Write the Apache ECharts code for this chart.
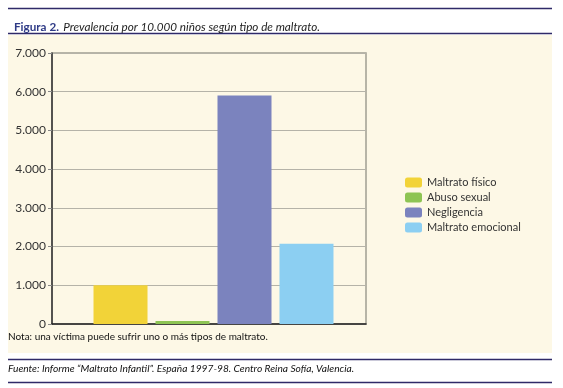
<!DOCTYPE html>
<html><head><meta charset="utf-8">
<script src="https://cdn.jsdelivr.net/npm/echarts@6/dist/echarts.min.js"></script>
<style>html,body{margin:0;padding:0;background:#fff}#c{width:563px;height:388px}</style>
</head><body><div id="c"></div>
<script>
const categories = ['Prevalencia'];
const seriesNames = ['Maltrato físico', 'Abuso sexual', 'Negligencia', 'Maltrato emocional'];
const seriesValues = [1000, 80, 5900, 2070];
const seriesColors = ['#F2D338', '#8DC453', '#7B83BE', '#8CCFF2'];
const yTicks = [0, 1000, 2000, 3000, 4000, 5000, 6000, 7000];

const FONT = 'Lato';
const chart = echarts.init(document.getElementById('c'), null, {renderer: 'canvas'});
const fmt = v => String(v).replace(/\B(?=(\d{3})+(?!\d))/g, '.');

const series = seriesNames.map((n, i) => ({
  name: n, type: 'bar', xAxisIndex: 1, yAxisIndex: 1,
  data: [seriesValues[i]], barWidth: 54, barGap: '14.8%',
  itemStyle: {color: seriesColors[i]}, emphasis: {disabled: true}
}));
series.push({type: 'bar', xAxisIndex: 0, yAxisIndex: 0, data: [], silent: true});

chart.setOption({
  animation: false,
  backgroundColor: '#fff',
  textStyle: {fontFamily: FONT},
  title: {
    left: 9, top: 13,
    text: '{b|Figura 2.} {i|Prevalencia por 10.000 niños según tipo de maltrato.}',
    textStyle: {rich: {
      b: {fontFamily: FONT, fontSize: 11.7, fontWeight: 'bold', color: '#2E3A86'},
      i: {fontFamily: FONT, fontSize: 11.7, fontWeight: 'normal', fontStyle: 'italic', color: '#222'}
    }}
  },
  graphic: [
    {type: 'rect', z: -10, shape: {x: 8, y: 35, width: 544, height: 318}, style: {fill: '#FDF8E6'}},
    {type: 'line', shape: {x1: 8, y1: 8.5, x2: 552, y2: 8.5}, style: {stroke: '#2F2A68', lineWidth: 1.5}},
    {type: 'line', shape: {x1: 8, y1: 33.5, x2: 552, y2: 33.5}, style: {stroke: '#2F2A68', lineWidth: 1.5}},
    {type: 'line', shape: {x1: 8, y1: 359.5, x2: 552, y2: 359.5}, style: {stroke: '#2F2A68', lineWidth: 1.5}},
    {type: 'line', shape: {x1: 8, y1: 382.5, x2: 552, y2: 382.5}, style: {stroke: '#2F2A68', lineWidth: 1.5}},
    {type: 'text', left: 8, top: 332, style: {text: 'Nota: una víctima puede sufrir uno o más tipos de maltrato.', font: '10px Lato', fill: '#111'}},
    {type: 'text', left: 8, top: 364, style: {text: 'Fuente: Informe “Maltrato Infantil”. España 1997-98. Centro Reina Sofía, Valencia.', font: 'italic 10.2px Lato', fill: '#111'}}
  ],
  legend: {
    orient: 'vertical', left: 400, top: 172,
    itemWidth: 17, itemHeight: 10, itemGap: 4,
    data: seriesNames,
    textStyle: {fontFamily: FONT, fontSize: 11, color: '#333', padding: [0, 0, 0, 0]}
  },
  grid: [
    {left: 52, top: 53, width: 314, height: 271, show: true, borderColor: '#A09E93', borderWidth: 1.5, backgroundColor: 'transparent'},
    {left: 93, top: 53, width: 241, height: 271}
  ],
  xAxis: [
    {gridIndex: 0, type: 'category', data: categories, axisTick: {show: false}, axisLabel: {show: false},
     axisLine: {lineStyle: {color: '#222', width: 1.5}}},
    {gridIndex: 1, type: 'category', data: categories, show: false}
  ],
  yAxis: [
    {gridIndex: 0, type: 'value', min: 0, max: 7000, interval: 1000,
     axisLine: {show: true, lineStyle: {color: '#333', width: 1.5}},
     axisTick: {show: true, length: 4, lineStyle: {color: '#888'}},
     axisLabel: {fontFamily: FONT, fontSize: 12, color: '#333', margin: 6, formatter: v => yTicks.includes(v) ? fmt(v) : ''},
     splitLine: {lineStyle: {color: '#B5B3A8', width: 1}}},
    {gridIndex: 1, type: 'value', min: 0, max: 7000, interval: 1000, show: false, splitLine: {show: false}}
  ],
  series: series
});
</script></body></html>
